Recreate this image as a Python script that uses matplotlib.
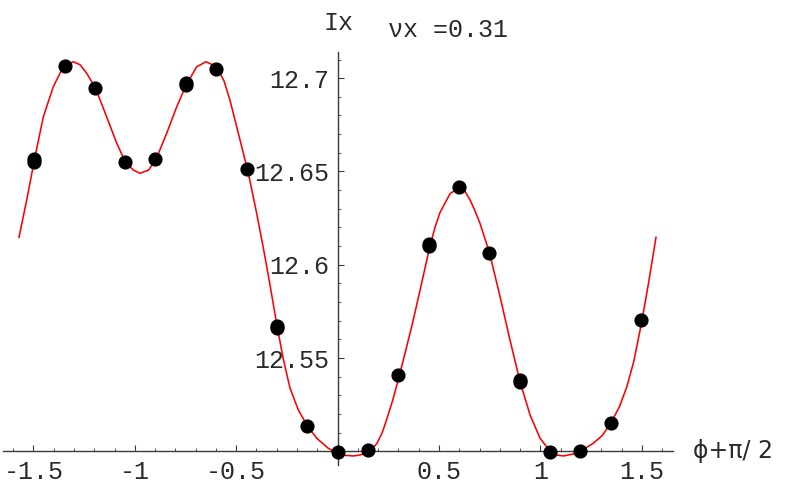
import matplotlib
matplotlib.use("Agg")
import matplotlib.pyplot as plt
from matplotlib.ticker import FixedLocator

# ---- data: measured points ----
phase = [-1.496, -1.346, -1.197, -1.047, -0.898, -0.748, -0.598, -0.449, -0.299, -0.150,
         0.0, 0.150, 0.299, 0.449, 0.598, 0.748, 0.898, 1.047, 1.197, 1.346, 1.496]
ix_meas = [12.6552, 12.7063, 12.6945, 12.6552, 12.6568, 12.6961, 12.7050, 12.6513, 12.5659, 12.5136,
           12.4998, 12.5005, 12.5409, 12.6100, 12.6416, 12.6063, 12.5371, 12.4998, 12.5003, 12.5152, 12.5702]
# repeated measurements (overlapping dots)
phase_rep = [-1.496, -0.748, -0.299, 0.449, 0.898]
ix_rep = [12.6565, 12.6972, 12.5671, 12.6110, 12.5381]

# ---- fitted curve ----
fit_x = [-1.571, -1.533, -1.492, -1.451, -1.402, -1.353, -1.303, -1.270, -1.237, -1.193,
         -1.139, -1.089, -1.047, -1.007, -0.974, -0.933, -0.897, -0.843, -0.793, -0.748,
         -0.695, -0.649, -0.596, -0.560, -0.531, -0.481, -0.440, -0.399, -0.366, -0.333,
         -0.300, -0.268, -0.235, -0.194, -0.149, -0.103, -0.046, 0.000, 0.040, 0.077,
         0.110, 0.143, 0.168, 0.193, 0.220, 0.242, 0.272, 0.303, 0.338, 0.370,
         0.410, 0.451, 0.480, 0.505, 0.554, 0.600, 0.625, 0.653, 0.675, 0.702,
         0.748, 0.801, 0.850, 0.900, 0.949, 0.998, 1.047, 1.080, 1.113, 1.179,
         1.261, 1.305, 1.348, 1.390, 1.426, 1.460, 1.499, 1.532, 1.570]
fit_y = [12.6147, 12.6347, 12.6579, 12.6793, 12.6954, 12.7061, 12.7088, 12.7072, 12.7026, 12.6945,
         12.6793, 12.6651, 12.6552, 12.6507, 12.6490, 12.6507, 12.6561, 12.6704, 12.6847, 12.6961,
         12.7061, 12.7088, 12.7061, 12.6985, 12.6883, 12.6668, 12.6490, 12.6275, 12.6088, 12.5890,
         12.5680, 12.5495, 12.5340, 12.5222, 12.5136, 12.5070, 12.5016, 12.4989, 12.4978, 12.4975,
         12.4980, 12.4992, 12.5012, 12.5040, 12.5100, 12.5170, 12.5275, 12.5400, 12.5550, 12.5690,
         12.5880, 12.6080, 12.6200, 12.6280, 12.6380, 12.6416, 12.6400, 12.6347, 12.6295, 12.6222,
         12.6068, 12.5829, 12.5596, 12.5371, 12.5195, 12.5070, 12.5002, 12.4980, 12.4975, 12.4989,
         12.5043, 12.5085, 12.5152, 12.5240, 12.5345, 12.5480, 12.5690, 12.5895, 12.6147]

x_major = [-1.5, -1.0, -0.5, 0.5, 1.0, 1.5]
x_labels = ["-1.5", "-1", "-0.5", "0.5", "1", "1.5"]
x_minor = [-1.6, -1.4, -1.3, -1.2, -1.1, -0.9, -0.8, -0.7, -0.6, -0.4, -0.3, -0.2, -0.1,
           0.1, 0.2, 0.3, 0.4, 0.6, 0.7, 0.8, 0.9, 1.1, 1.2, 1.3, 1.4, 1.6]
y_major = [12.55, 12.6, 12.65, 12.7]
y_labels = ["12.55", "12.6", "12.65", "12.7"]
y_minor = [12.51, 12.52, 12.53, 12.54, 12.56, 12.57, 12.58, 12.59, 12.61, 12.62,
           12.63, 12.64, 12.66, 12.67, 12.68, 12.69, 12.71]

mono = "Liberation Mono"
axis_col = "#3a3a3a"
txt_col = "#2a2a2a"
fs = 18

fig = plt.figure(figsize=(8.0, 4.94), dpi=100)
ax = fig.add_axes([0, 0, 1, 1])
ax.set_xlim(-1.6647, 2.280)
ax.set_ylim(12.4771, 12.7419)

ax.plot(fit_x, fit_y, color="#ff0000", lw=1.15, zorder=2, solid_joinstyle="round")
ax.plot(phase, ix_meas, "o", color="black", ms=9.2, zorder=3)
ax.plot(phase_rep, ix_rep, "o", color="black", ms=9.2, zorder=3)

for s in ["top", "right"]:
    ax.spines[s].set_visible(False)
ax.spines["left"].set_position(("data", 0.0))
ax.spines["bottom"].set_position(("data", 12.5))
ax.spines["left"].set_bounds(12.4925, 12.7138)
ax.spines["bottom"].set_bounds(-1.65, 1.654)
for s in ["left", "bottom"]:
    ax.spines[s].set_color(axis_col)
    ax.spines[s].set_linewidth(1.0)

ax.xaxis.set_major_locator(FixedLocator(x_major))
ax.set_xticklabels(x_labels)
ax.xaxis.set_minor_locator(FixedLocator(x_minor))
ax.yaxis.set_major_locator(FixedLocator(y_major))
ax.set_yticklabels(y_labels)
ax.yaxis.set_minor_locator(FixedLocator(y_minor))

ax.tick_params(axis="both", which="major", direction="in", length=4.5, width=0.8,
               color=axis_col, labelsize=fs)
ax.tick_params(axis="both", which="minor", direction="in", length=2.5, width=0.6,
               color=axis_col)
ax.tick_params(axis="x", pad=6)
ax.tick_params(axis="y", pad=6)
for lab in ax.get_xticklabels() + ax.get_yticklabels():
    lab.set_fontfamily(mono)
    lab.set_color(txt_col)

fig.text(323 / 800, 1 - 30 / 494, "Ix", fontfamily=mono, fontsize=fs, color=txt_col,
         ha="left", va="baseline")
fig.text(388 / 800, 1 - 37 / 494, "νx =0.31", fontfamily=mono, fontsize=fs, color=txt_col,
         ha="left", va="baseline")
fig.text(693 / 800, 1 - 451 / 494, "ϕ+π/ 2", fontfamily="DejaVu Sans", fontsize=17,
         color=txt_col, ha="left", va="center")

fig.savefig("out.png", dpi=100)
